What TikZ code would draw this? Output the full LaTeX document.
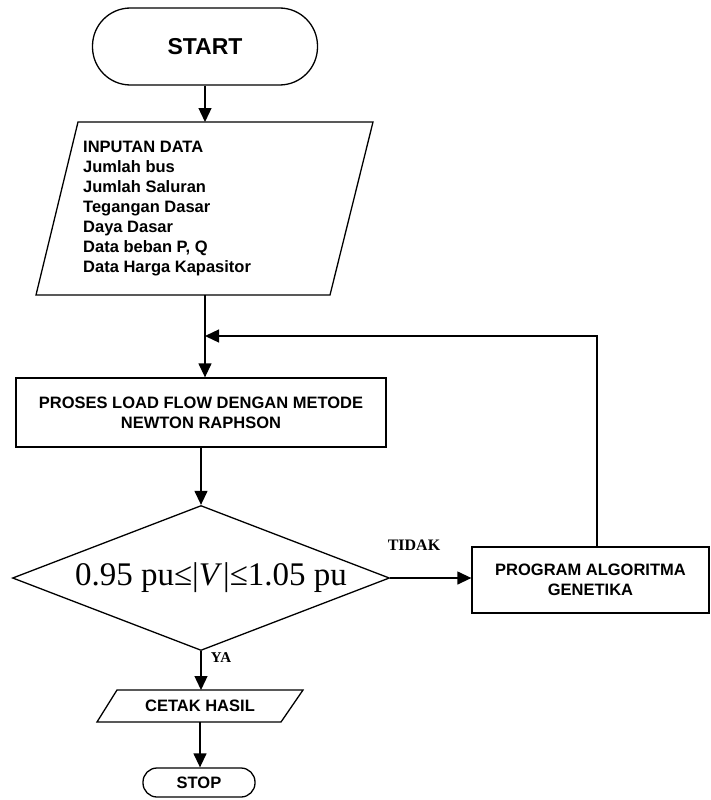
\documentclass[tikz,border=0pt]{standalone}
\usepackage{fontspec}
\setmainfont{Liberation Sans}
\newfontfamily\serifrm{Liberation Serif}
\usetikzlibrary{arrows.meta,shapes.geometric,calc}
\begin{document}
\begin{tikzpicture}[x=1pt,y=-1pt,
  line/.style={line width=1.3pt},
  arr/.style={line width=1.3pt,-{Triangle[length=14pt,width=13pt]}},
  lbl/.style={font=\fontsize{16.5}{20}\selectfont\bfseries},
  box/.style={draw,line width=1.3pt,inner sep=0pt},
  ghost/.style={inner sep=0pt,outer sep=0pt},
]
\useasboundingbox (0,0) rectangle (710,800);

% START
\node[box, rounded corners=38pt, minimum width=225pt, minimum height=77pt,
      font=\fontsize{23}{26}\selectfont\bfseries] (start) at (205,46.5) {START};

% INPUT parallelogram
\node[ghost, minimum width=337pt, minimum height=173pt] (input) at (204.5,208.5) {};
\draw[line] ($(input.north west)+(42,0)$) -- (input.north east)
  -- ($(input.south east)+(-43,0)$) -- (input.south west) -- cycle;
\node[lbl, align=left, anchor=north west, inner sep=0pt] (inputtxt) at (83,141)
  {INPUTAN DATA\\Jumlah bus\\Jumlah Saluran\\Tegangan Dasar\\Daya Dasar\\Data beban P, Q\\Data Harga Kapasitor};

% PROCESS
\node[box, lbl, align=center, minimum width=370pt, minimum height=69pt] (proc) at (201,412.5)
  {PROSES LOAD FLOW DENGAN METODE\\NEWTON RAPHSON};

% DECISION
\node[draw, line width=1.3pt, diamond, aspect=2.6, inner sep=0pt,
      minimum width=377pt, minimum height=145pt] (dec) at (201,578) {};
\node[font=\serifrm\fontsize{33}{36}\selectfont, inner sep=0pt] (dectxt) at (211,578)
  {0.95 pu≤|\textit{V}\kern1pt|≤1.05 pu};

% GENETIC ALGORITHM
\node[box, lbl, align=center, minimum width=237pt, minimum height=66pt] (prog) at (590.5,580)
  {PROGRAM ALGORITMA\\GENETIKA};

% CETAK HASIL parallelogram
\node[ghost, lbl, minimum width=206pt, minimum height=32pt] (cetak) at (200,706) {CETAK HASIL};
\draw[line] ($(cetak.north west)+(20,0)$) -- (cetak.north east)
  -- ($(cetak.south east)+(-22,0)$) -- (cetak.south west) -- cycle;

% STOP
\node[box, lbl, rounded corners=14pt, minimum width=112pt, minimum height=29pt] (stop) at (199,782.5) {STOP};

% labels
\node[font=\serifrm\bfseries\fontsize{16}{18}\selectfont] (tidak) at (414,545) {TIDAK};
\node[font=\serifrm\bfseries\fontsize{15}{18}\selectfont] (ya) at (221,658) {YA};

% connectors
\coordinate (intop) at (start.south |- input.north);
\coordinate (inbot) at (start.south |- input.south);
\coordinate (procin) at (start.south |- proc.north);
\coordinate (join) at (start.south |- 0,336);
\draw[arr] (start.south) -- (intop);
\draw[arr] (inbot) -- (procin);
\coordinate (fbup) at ($(prog.north)+(6.5,0)$);
\draw[arr] (fbup) |- (join);
\draw[arr] (proc.south) -- (dec.north);
\draw[arr] (dec.east) -- (dec.east -| prog.west);
\draw[arr] (dec.south) -- (dec.south |- cetak.north);
\draw[arr] (cetak.south) -- (cetak.south |- stop.north);
\end{tikzpicture}
\end{document}
